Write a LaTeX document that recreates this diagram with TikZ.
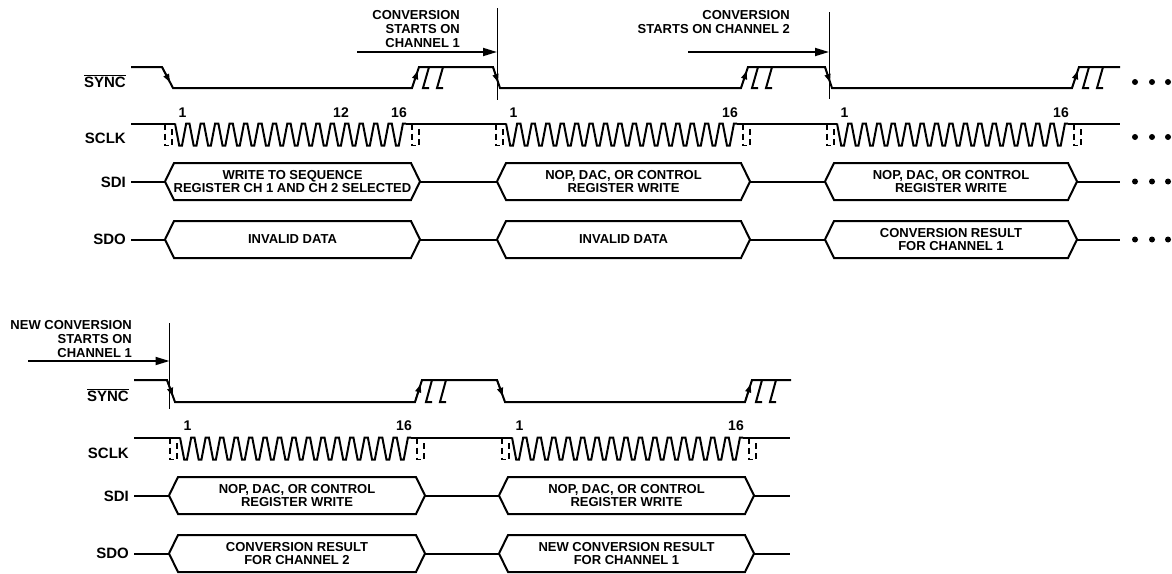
\documentclass[tikz,border=0pt]{standalone}
\usepackage{fontspec}
\setmainfont{Liberation Sans}
\usetikzlibrary{arrows.meta,calc}

\tikzset{
  sig/.style={line width=2pt,line join=miter},
  altdash/.style={line width=1.7pt,dash pattern=on 6pt off 4pt},
  marker/.style={line width=1pt},
  startarrow/.style={line width=1.8pt,-{Triangle[length=14pt,width=8pt]}},
  edgetip/.style={line width=1.4pt,-{Triangle[length=8pt,width=6pt]}},
  lbl/.style={font=\fontsize{13}{14}\selectfont\bfseries,inner sep=0pt},
  siglbl/.style={lbl,anchor=east,font=\fontsize{15}{16}\selectfont\bfseries},
  cntlbl/.style={lbl,font=\fontsize{14}{15}\selectfont\bfseries},
  buslbl/.style={lbl,align=center,font=\fontsize{13}{13.3}\selectfont\bfseries},
  dot/.style={fill=black,draw=none},
}

% 16 clock pulses from #1 at high level #2
\newcommand{\clkburst}[2]{%
  \draw[sig] (#1,#2) \foreach \k in {1,...,16}{ -- ++(4.2,22) -- ++(2.8,0) -- ++(4.2,-22) -- ++(3.25,0)};}
% dashed alternate clock idle
\newcommand{\clkalt}[2]{%
  \draw[altdash] (#1,#2) -- ++(0,22) -- ++(7,0) -- ++(0,-22);}
% rising SYNC edge with its later alternatives
\newcommand{\syncrise}[3]{%
  \draw[edgetip] (#1,#3) -- ($(#1,#3)!0.8!(#1+7,#2)$);
  \draw[sig] (#1+17,#2) -- (#1+11,#3) -- ++(6,0);
  \draw[sig] (#1+31,#2) -- (#1+25,#3) -- ++(6,0);}
% data bus: #1 name, #2 left x, #3 right x, #4 centre y, #5 text
\newcommand{\busbox}[5]{%
  \draw[sig] (#2,#4) -- (#2+9,#4-18.5) -- (#3-9,#4-18.5) -- (#3,#4) -- (#3-9,#4+18.5) -- (#2+9,#4+18.5) -- cycle;
  \node[buslbl] (#1) at ({(#2+#3)/2},#4) {#5};}
\newcommand{\barsig}[1]{$\overline{\hbox{#1}}$}

\begin{document}
\begin{tikzpicture}[x=1pt,y=1pt,yscale=-1]
\useasboundingbox (0,0) rectangle (1172,573);

%%%%%%%% upper sequence %%%%%%%%
% Text Node
\node[siglbl] (synclbl) at (126,81) {\barsig{SYNC}};
\node[siglbl] (sclklbl) at (126,138.5) {SCLK};
\node[siglbl] (sdilbl) at (126,182) {SDI};
\node[siglbl] (sdolbl) at (126,239.5) {SDO};

%Straight Lines: SYNC
\draw[sig] (131,67) -- (162,67) -- (173,88) -- (412,88) -- (419,67) -- (493,67) -- (500,88) -- (741,88) -- (748,67) -- (825,67) -- (832,88) -- (1072,88) -- (1079,67) -- (1120,67);
\draw[edgetip] (162,67) -- ($(162,67)!0.72!(173,88)$);
\draw[edgetip] (493,67) -- ($(493,67)!0.72!(500,88)$);
\draw[edgetip] (825,67) -- ($(825,67)!0.72!(832,88)$);
\syncrise{412}{67}{88}
\syncrise{741}{67}{88}
\syncrise{1072}{67}{88}

%Straight Lines: SCLK
\draw[sig] (131,123.5) -- (175,123.5);
\clkburst{175}{123.5}
\draw[sig] (406.2,123.5) -- (506,123.5);
\clkburst{506}{123.5}
\draw[sig] (737.2,123.5) -- (837,123.5);
\clkburst{837}{123.5}
\draw[sig] (1068.2,123.5) -- (1120,123.5);
\foreach \x in {165,412,496,743,827,1074} {\clkalt{\x}{123.5}}

% Text Node: clock counts
\node[cntlbl] (c1a) at (182.5,113) {1};
\node[cntlbl] (c12a) at (341,113) {12};
\node[cntlbl] (c16a) at (399,113) {16};
\node[cntlbl] (c1b) at (513.5,113) {1};
\node[cntlbl] (c16b) at (730,113) {16};
\node[cntlbl] (c1c) at (844.5,113) {1};
\node[cntlbl] (c16c) at (1061,113) {16};

%Shape: buses SDI
\draw[sig] (131,181.5) -- (165,181.5);
\busbox{sdia}{165}{420}{181.5}{WRITE TO SEQUENCE\\REGISTER CH 1 AND CH 2 SELECTED}
\draw[sig] (420,181.5) -- (497,181.5);
\busbox{sdib}{497}{750}{181.5}{NOP, DAC, OR CONTROL\\REGISTER WRITE}
\draw[sig] (750,181.5) -- (825,181.5);
\busbox{sdic}{825}{1077}{181.5}{NOP, DAC, OR CONTROL\\REGISTER WRITE}
\draw[sig] (1077,181.5) -- (1120,181.5);

%Shape: buses SDO
\draw[sig] (131,239.5) -- (165,239.5);
\busbox{sdoa}{165}{420}{239.5}{INVALID DATA}
\draw[sig] (420,239.5) -- (497,239.5);
\busbox{sdob}{497}{750}{239.5}{INVALID DATA}
\draw[sig] (750,239.5) -- (825,239.5);
\busbox{sdoc}{825}{1077}{239.5}{CONVERSION RESULT\\FOR CHANNEL 1}
\draw[sig] (1077,239.5) -- (1120,239.5);

%Shape: continuation dots
\foreach \y in {82,137,181.5,239.5}
  \foreach \x in {1135,1152,1168} {\fill[dot] (\x,\y) circle (3);}

%Straight Lines: conversion markers
\coordinate (mka) at (497,8);
\coordinate (mkaend) at (497,100);
\draw[marker] (mka) -- (mkaend);
\coordinate (arra) at (357,52);
\draw[startarrow] (arra) -- (arra -| mka);
\node[lbl,anchor=north east,align=right] (conva) at (460,10.5) {CONVERSION\\STARTS ON\\CHANNEL 1};

\coordinate (mkb) at (829,12);
\coordinate (mkbend) at (829,99);
\draw[marker] (mkb) -- (mkbend);
\coordinate (arrb) at (688,52);
\draw[startarrow] (arrb) -- (arrb -| mkb);
\node[lbl,anchor=north east,align=right] (convb) at (790,10.5) {CONVERSION\\STARTS ON CHANNEL 2};

%%%%%%%% lower sequence %%%%%%%%
% Text Node
\node[siglbl] (synclbl2) at (129,395) {\barsig{SYNC}};
\node[siglbl] (sclklbl2) at (129,453) {SCLK};
\node[siglbl] (sdilbl2) at (129,496) {SDI};
\node[siglbl] (sdolbl2) at (129,553.5) {SDO};

%Straight Lines: SYNC
\draw[sig] (134,380) -- (167,380) -- (175,402) -- (415,402) -- (422,380) -- (497,380) -- (505,402) -- (745,402) -- (752,380) -- (791,380);
\draw[edgetip] (167,380) -- ($(167,380)!0.72!(175,402)$);
\draw[edgetip] (497,380) -- ($(497,380)!0.72!(505,402)$);
\syncrise{415}{380}{402}
\syncrise{745}{380}{402}

%Straight Lines: SCLK
\draw[sig] (134,437.5) -- (180,437.5);
\clkburst{180}{437.5}
\draw[sig] (411.2,437.5) -- (512,437.5);
\clkburst{512}{437.5}
\draw[sig] (743.2,437.5) -- (790,437.5);
\foreach \x in {170,417,502,749} {\clkalt{\x}{437.5}}

% Text Node: clock counts
\node[cntlbl] (c1d) at (187.5,426) {1};
\node[cntlbl] (c16d) at (404,426) {16};
\node[cntlbl] (c1e) at (519.5,426) {1};
\node[cntlbl] (c16e) at (736,426) {16};

%Shape: buses SDI
\draw[sig] (134,495.5) -- (169,495.5);
\busbox{sdid}{169}{425}{495.5}{NOP, DAC, OR CONTROL\\REGISTER WRITE}
\draw[sig] (425,495.5) -- (499,495.5);
\busbox{sdie}{499}{754}{495.5}{NOP, DAC, OR CONTROL\\REGISTER WRITE}
\draw[sig] (754,495.5) -- (790,495.5);

%Shape: buses SDO
\draw[sig] (134,553.5) -- (169,553.5);
\busbox{sdod}{169}{425}{553.5}{CONVERSION RESULT\\FOR CHANNEL 2}
\draw[sig] (425,553.5) -- (499,553.5);
\busbox{sdoe}{499}{754}{553.5}{NEW CONVERSION RESULT\\FOR CHANNEL 1}
\draw[sig] (754,553.5) -- (790,553.5);

%Straight Lines: conversion marker
\coordinate (mkc) at (169.5,323);
\coordinate (mkcend) at (169.5,409);
\draw[marker] (mkc) -- (mkcend);
\coordinate (arrc) at (28,361);
\draw[startarrow] (arrc) -- (arrc -| mkc);
\node[lbl,anchor=north east,align=right] (convc) at (132,320.5) {NEW CONVERSION\\STARTS ON\\CHANNEL 1};

\end{tikzpicture}
\end{document}
